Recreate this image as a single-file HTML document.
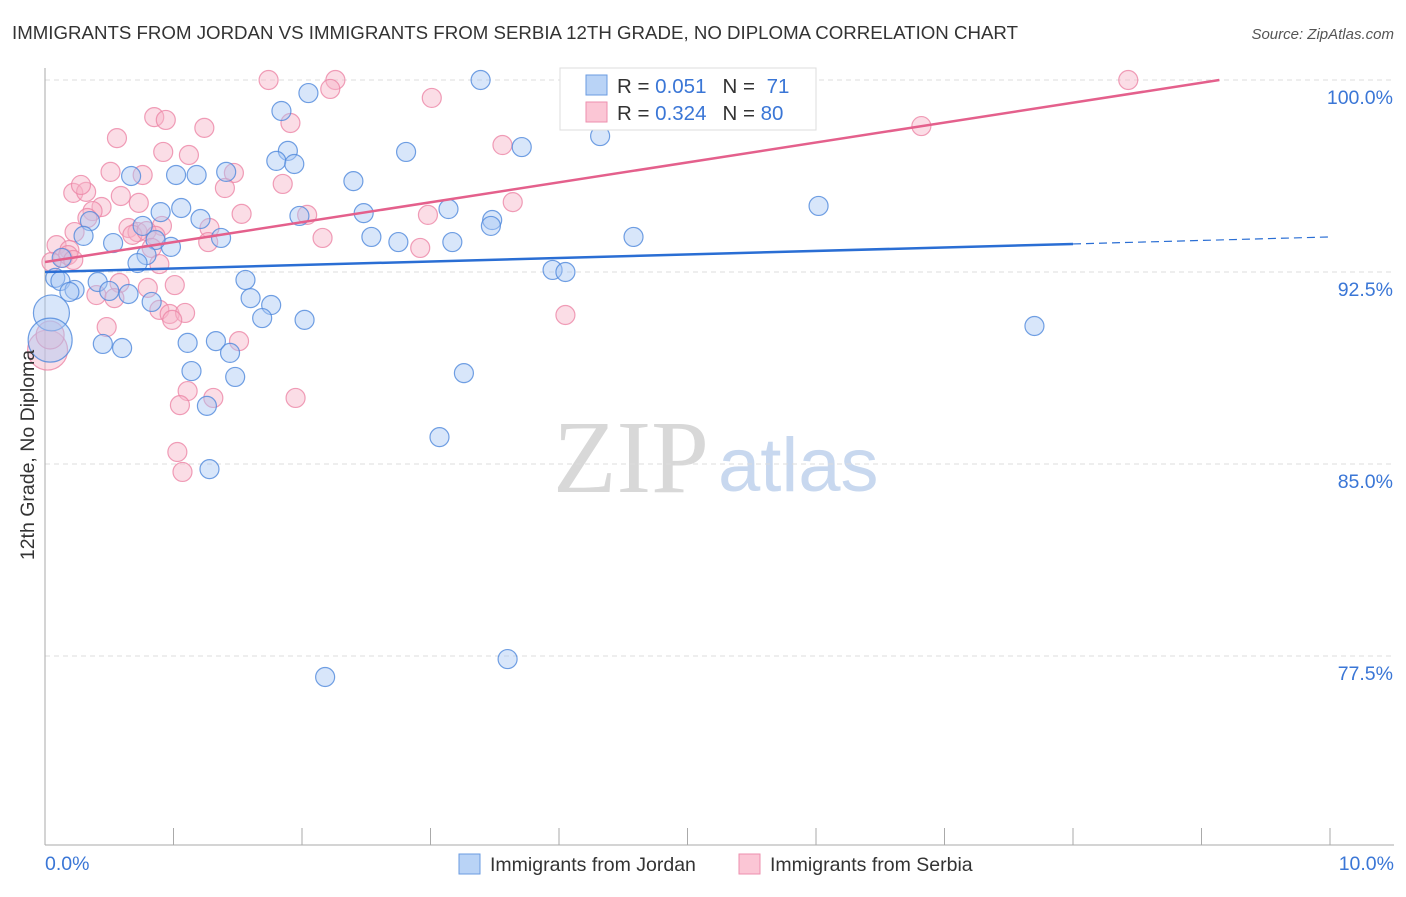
<!DOCTYPE html>
<html><head><meta charset="utf-8"><style>
body{margin:0;background:#fff;font-family:"Liberation Sans",sans-serif}
</style></head><body>
<svg id="chart" width="1406" height="892" xmlns="http://www.w3.org/2000/svg" font-family="Liberation Sans, sans-serif">
<text x="12" y="39" font-size="18.6" fill="#333" textLength="1006" lengthAdjust="spacingAndGlyphs">IMMIGRANTS FROM JORDAN VS IMMIGRANTS FROM SERBIA 12TH GRADE, NO DIPLOMA CORRELATION CHART</text>
<text x="1394" y="39" font-size="15" fill="#555" font-style="italic" text-anchor="end">Source: ZipAtlas.com</text>
<text x="553" y="492" font-size="104" font-family="Liberation Serif, serif" fill="#d8d8d8">ZIP</text>
<text x="718" y="491" font-size="76" fill="#c8d8ef">atlas</text>
<g id="grid"></g><g id="axes"></g><g id="pts"></g><g id="trend"></g>
<text transform="translate(34,455) rotate(-90)" font-size="19.5" fill="#333" text-anchor="middle">12th Grade, No Diploma</text>
<g>
<rect x="560" y="68" width="256" height="62" fill="#fff" stroke="#ddd"/>
<rect x="586" y="75" width="21" height="20" fill="#b9d3f6" stroke="#6a9be0"/>
<rect x="586" y="102" width="21" height="20" fill="#fbc6d5" stroke="#ee8fae"/>
<text x="617" y="93" font-size="20.5" fill="#333">R = <tspan fill="#3a76d6">0.051</tspan><tspan dx="16">N = </tspan><tspan fill="#3a76d6" dx="6">71</tspan></text>
<text x="617" y="120" font-size="20.5" fill="#333">R = <tspan fill="#3a76d6">0.324</tspan><tspan dx="16">N = </tspan><tspan fill="#3a76d6">80</tspan></text>
</g>
<g>
<rect x="459" y="854" width="21" height="20" fill="#b9d3f6" stroke="#6a9be0"/>
<text x="490" y="871" font-size="19.5" fill="#333">Immigrants from Jordan</text>
<rect x="739" y="854" width="21" height="20" fill="#fbc6d5" stroke="#ee8fae"/>
<text x="770" y="871" font-size="19.5" fill="#333">Immigrants from Serbia</text>
</g>
</svg>
<script>
const yTicks=[100,92.5,85,77.5];
const yTickLabels=["100.0%","92.5%","85.0%","77.5%"];
const xTickLabels=["0.0%","10.0%"];
const jordanX=[3.39,2.05,1.84,4.32,3.71,2.81,1.89,1.80,1.94,1.41,1.02,1.18,0.67,2.40,6.02,1.06,0.90,2.48,3.14,1.21,1.98,3.48,3.47,0.35,0.76,2.54,2.75,3.17,4.58,1.37,0.30,0.53,0.98,0.86,0.79,0.72,0.13,0.08,0.12,0.41,0.23,0.19,0.50,0.65,1.56,1.60,1.76,0.83,1.69,2.02,3.95,4.05,7.70,0.45,0.60,1.11,1.33,1.44,1.14,1.48,3.26,1.26,3.07,1.28,3.60,2.18,0.05,0.04];
const jordanY=[100.0,99.49,98.79,97.81,97.38,97.19,97.23,96.84,96.72,96.41,96.29,96.29,96.25,96.05,95.08,95.00,94.84,94.80,94.96,94.57,94.69,94.53,94.30,94.49,94.30,93.87,93.67,93.67,93.87,93.83,93.91,93.63,93.48,93.75,93.16,92.85,93.05,92.27,92.15,92.11,91.80,91.72,91.76,91.64,92.19,91.48,91.21,91.33,90.70,90.63,92.58,92.50,90.39,89.69,89.53,89.73,89.80,89.34,88.63,88.40,88.55,87.27,86.05,84.80,77.38,76.68,90.90,89.84];
const jordanSize=[9.5,9.5,9.5,9.5,9.5,9.5,9.5,9.5,9.5,9.5,9.5,9.5,9.5,9.5,9.5,9.5,9.5,9.5,9.5,9.5,9.5,9.5,9.5,9.5,9.5,9.5,9.5,9.5,9.5,9.5,9.5,9.5,9.5,9.5,9.5,9.5,9.5,9.5,9.5,9.5,9.5,9.5,9.5,9.5,9.5,9.5,9.5,9.5,9.5,9.5,9.5,9.5,9.5,9.5,9.5,9.5,9.5,9.5,9.5,9.5,9.5,9.5,9.5,9.5,9.5,9.5,18,22];
const serbiaX=[1.74,2.26,8.43,2.22,3.01,0.85,0.94,1.24,1.91,0.56,0.92,1.12,3.56,0.51,1.47,0.76,1.85,0.22,0.32,0.28,1.40,0.59,0.73,0.44,0.37,1.53,2.04,2.98,3.64,6.82,0.33,0.23,0.65,0.72,0.68,0.91,0.79,0.86,1.28,2.16,1.27,2.92,0.09,0.19,0.14,0.18,0.22,0.83,0.89,0.05,0.58,0.80,0.40,0.54,1.01,0.89,0.97,1.09,0.99,0.48,1.51,4.05,1.11,1.31,1.05,1.95,1.03,1.07,0.02,0.04];
const serbiaY=[100.0,100.0,100.0,99.65,99.30,98.55,98.44,98.13,98.32,97.73,97.19,97.07,97.46,96.41,96.37,96.29,95.94,95.59,95.63,95.90,95.78,95.47,95.20,95.04,94.88,94.77,94.73,94.73,95.23,98.20,94.61,94.06,94.22,94.06,93.95,94.30,94.10,93.91,94.22,93.83,93.67,93.44,93.55,93.36,93.05,93.16,92.97,93.44,92.81,92.89,92.07,91.88,91.60,91.48,91.99,91.02,90.86,90.90,90.63,90.35,89.80,90.82,87.85,87.58,87.30,87.58,85.47,84.69,89.45,90.04];
const serbiaSize=[9.5,9.5,9.5,9.5,9.5,9.5,9.5,9.5,9.5,9.5,9.5,9.5,9.5,9.5,9.5,9.5,9.5,9.5,9.5,9.5,9.5,9.5,9.5,9.5,9.5,9.5,9.5,9.5,9.5,9.5,9.5,9.5,9.5,9.5,9.5,9.5,9.5,9.5,9.5,9.5,9.5,9.5,9.5,9.5,9.5,9.5,9.5,9.5,9.5,9.5,9.5,9.5,9.5,9.5,9.5,9.5,9.5,9.5,9.5,9.5,9.5,9.5,9.5,9.5,9.5,9.5,9.5,9.5,20,14];
const jordanTrend=[92.5,0.137];
const serbiaTrend=[92.89,0.778];
const NS="http://www.w3.org/2000/svg";
const xs=v=>45+v*128.5, ys=v=>80+(100-v)*25.6;
function mk(p,t,a){const e=document.createElementNS(NS,t);for(const k in a)e.setAttribute(k,a[k]);document.getElementById(p).appendChild(e);return e;}
yTicks.forEach((t,i)=>{
 const g=mk('grid','line',{x1:45,x2:1394,y1:ys(t),y2:ys(t),stroke:'#ddd','stroke-dasharray':'5,4'});
 
 
 const l=mk('grid','text',{x:1393,y:ys(t)+24,'font-size':19.5,fill:'#3a76d6','text-anchor':'end'});
 l.textContent=yTickLabels[i];
 
 
});
const ax=mk('axes','line',{x1:45,x2:45,y1:68,y2:845,stroke:'#aaa'});


const bx=mk('axes','line',{x1:45,x2:1394,y1:845,y2:845,stroke:'#aaa'});


for(let i=0;i<=10;i++){
 const t=mk('axes','line',{x1:xs(i),x2:xs(i),y1:828,y2:845,stroke:'#aaa'});
 
 
}
[[0,'start',45],[10,'end',1394]].forEach((d,i)=>{
 const l=mk('axes','text',{x:d[2],y:870,'font-size':19.5,fill:'#3a76d6','text-anchor':d[1]});
 l.textContent=xTickLabels[i];
 
 
});
function pts(X,Y,S,fill,stroke,name){
 X.forEach((x,i)=>{
  const c=mk('pts','circle',{cx:xs(x),cy:ys(Y[i]),r:S[i],fill:fill,'fill-opacity':0.45,stroke:stroke,'stroke-opacity':0.8,'stroke-width':1.2});
  
  
 });
}
pts(serbiaX,serbiaY,serbiaSize,'#f7b3c7','#ec86a6','serbia-point');
pts(jordanX,jordanY,jordanSize,'#a9c8f3','#4f88dc','jordan-point');
const j1=mk('trend','line',{x1:xs(0),y1:ys(jordanTrend[0]),x2:xs(8),y2:ys(jordanTrend[0]+8*jordanTrend[1]),stroke:'#2a6ed4','stroke-width':2.5});


const j2=mk('trend','line',{x1:xs(8),y1:ys(jordanTrend[0]+8*jordanTrend[1]),x2:xs(10),y2:ys(jordanTrend[0]+10*jordanTrend[1]),stroke:'#2a6ed4','stroke-width':1.2,'stroke-dasharray':'8,5'});


const xe=(100-serbiaTrend[0])/serbiaTrend[1];
const s1=mk('trend','line',{x1:xs(0),y1:ys(serbiaTrend[0]),x2:xs(xe),y2:ys(100),stroke:'#e4608c','stroke-width':2.5});


</script>
</body></html>
